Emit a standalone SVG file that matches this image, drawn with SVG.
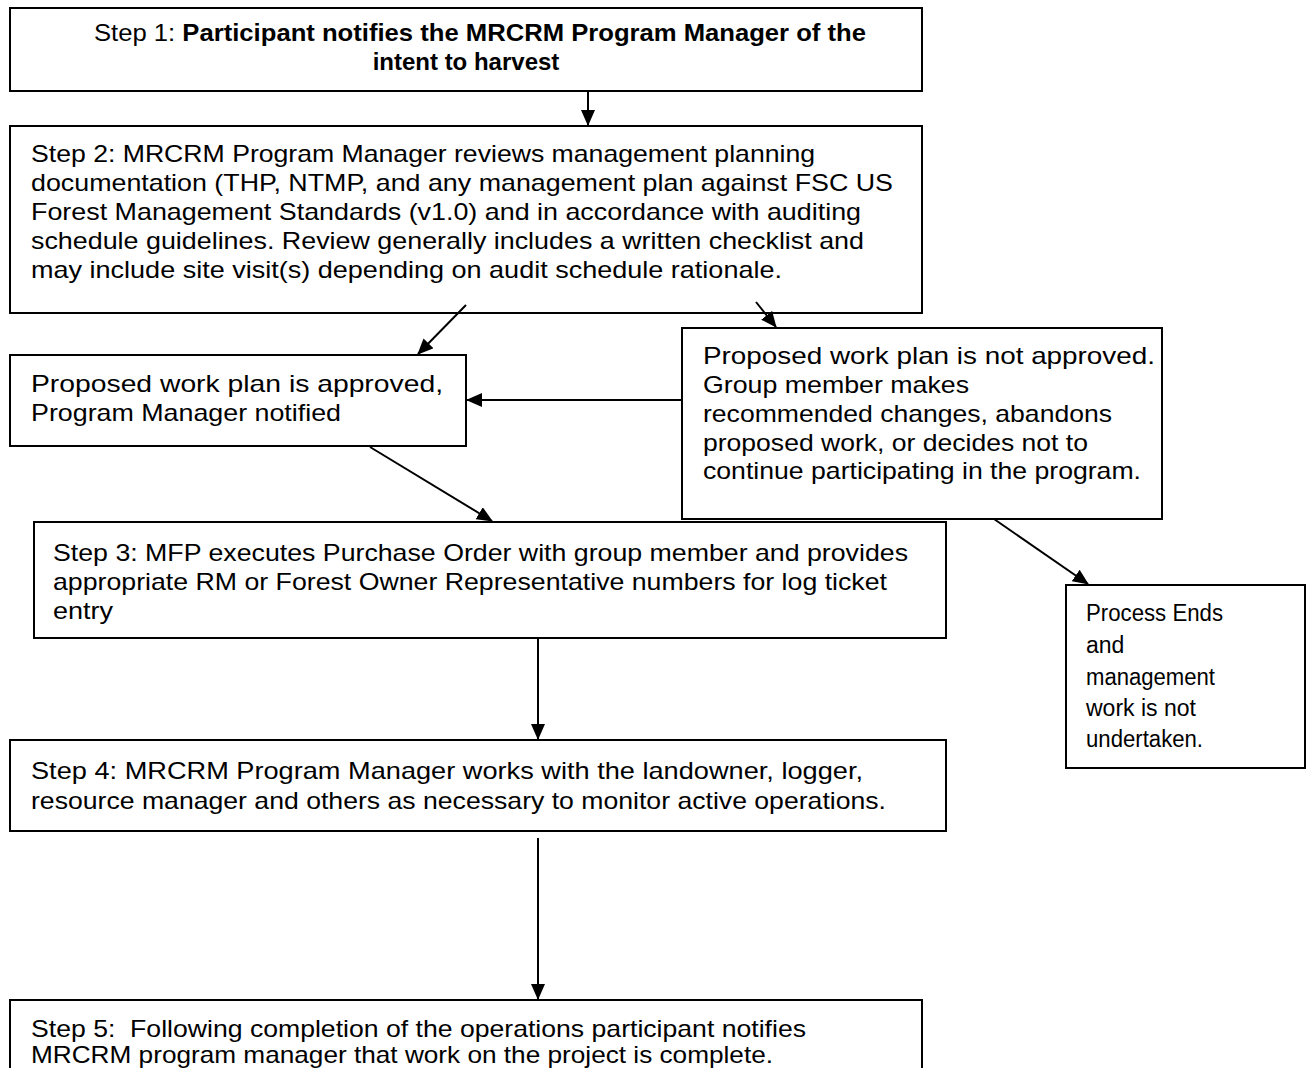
<svg xmlns="http://www.w3.org/2000/svg" width="1306" height="1068" viewBox="0 0 1306 1068">
<style>
.box{fill:#fff;stroke:#000;stroke-width:2}
.t{font-family:"Liberation Sans",Arial,sans-serif;font-size:24px;fill:#000}
.s{font-size:23px}
.b{font-weight:bold}
.c{stroke:#000;stroke-width:2;fill:none}
</style>
<defs>
<marker id="ah" markerWidth="16" markerHeight="14" refX="15" refY="7" orient="auto" markerUnits="userSpaceOnUse">
<path d="M0,0 L16,7 L0,14 Z" fill="#000"/>
</marker>
</defs>
<rect width="1306" height="1068" fill="#fff"/>
<g id="step1">
<rect class="box" x="10" y="8" width="912" height="83"/>
<text class="t" x="94" y="41" textLength="772" lengthAdjust="spacingAndGlyphs">Step 1: <tspan class="b">Participant notifies the MRCRM Program Manager of the</tspan></text>
<text class="t b" x="466" y="70" text-anchor="middle">intent to harvest</text>
</g>
<g id="step2">
<rect class="box" x="10" y="126" width="912" height="187"/>
<text class="t" x="31" y="162" textLength="784" lengthAdjust="spacingAndGlyphs">Step 2: MRCRM Program Manager reviews management planning</text>
<text class="t" x="31" y="191" textLength="862" lengthAdjust="spacingAndGlyphs">documentation (THP, NTMP, and any management plan against FSC US</text>
<text class="t" x="31" y="220" textLength="830" lengthAdjust="spacingAndGlyphs">Forest Management Standards (v1.0) and in accordance with auditing</text>
<text class="t" x="31" y="249" textLength="833" lengthAdjust="spacingAndGlyphs">schedule guidelines. Review generally includes a written checklist and</text>
<text class="t" x="31" y="278" textLength="751" lengthAdjust="spacingAndGlyphs">may include site visit(s) depending on audit schedule rationale.</text>
</g>
<g id="approved">
<rect class="box" x="10" y="355" width="456" height="91"/>
<text class="t" x="31" y="392" textLength="412" lengthAdjust="spacingAndGlyphs">Proposed work plan is approved,</text>
<text class="t" x="31" y="421" textLength="310" lengthAdjust="spacingAndGlyphs">Program Manager notified</text>
</g>
<g id="notapproved">
<rect class="box" x="682" y="328" width="480" height="191"/>
<text class="t" x="703" y="364" textLength="452" lengthAdjust="spacingAndGlyphs">Proposed work plan is not approved.</text>
<text class="t" x="703" y="393" textLength="266" lengthAdjust="spacingAndGlyphs">Group member makes</text>
<text class="t" x="703" y="422" textLength="409" lengthAdjust="spacingAndGlyphs">recommended changes, abandons</text>
<text class="t" x="703" y="451" textLength="385" lengthAdjust="spacingAndGlyphs">proposed work, or decides not to</text>
<text class="t" x="703" y="479" textLength="438" lengthAdjust="spacingAndGlyphs">continue participating in the program.</text>
</g>
<g id="step3">
<rect class="box" x="34" y="522" width="912" height="116"/>
<text class="t" x="53" y="561" textLength="855" lengthAdjust="spacingAndGlyphs">Step 3: MFP executes Purchase Order with group member and provides</text>
<text class="t" x="53" y="590" textLength="834" lengthAdjust="spacingAndGlyphs">appropriate RM or Forest Owner Representative numbers for log ticket</text>
<text class="t" x="53" y="619" textLength="60" lengthAdjust="spacingAndGlyphs">entry</text>
</g>
<g id="processends">
<rect class="box" x="1066" y="585" width="239" height="183"/>
<text class="t s" x="1086" y="621" textLength="137" lengthAdjust="spacingAndGlyphs">Process Ends</text>
<text class="t s" x="1086" y="653">and</text>
<text class="t s" x="1086" y="685" textLength="129" lengthAdjust="spacingAndGlyphs">management</text>
<text class="t s" x="1086" y="716">work is not</text>
<text class="t s" x="1086" y="747" textLength="117" lengthAdjust="spacingAndGlyphs">undertaken.</text>
</g>
<g id="step4">
<rect class="box" x="10" y="740" width="936" height="91"/>
<text class="t" x="31" y="779" textLength="832" lengthAdjust="spacingAndGlyphs">Step 4: MRCRM Program Manager works with the landowner, logger,</text>
<text class="t" x="31" y="809" textLength="855" lengthAdjust="spacingAndGlyphs">resource manager and others as necessary to monitor active operations.</text>
</g>
<g id="step5">
<path class="box" d="M10,1068 V1000 H922 V1068"/>
<text class="t" x="31" y="1037" xml:space="preserve" textLength="775" lengthAdjust="spacingAndGlyphs">Step 5:  Following completion of the operations participant notifies</text>
<text class="t" x="31" y="1063" textLength="742" lengthAdjust="spacingAndGlyphs">MRCRM program manager that work on the project is complete.</text>
</g>
<g id="connectors">
<line class="c" x1="588" y1="91" x2="588" y2="125" marker-end="url(#ah)"/>
<line class="c" x1="466" y1="305" x2="418" y2="354" marker-end="url(#ah)"/>
<line class="c" x1="756" y1="302" x2="776" y2="327" marker-end="url(#ah)"/>
<line class="c" x1="682" y1="400" x2="467" y2="400" marker-end="url(#ah)"/>
<line class="c" x1="370" y1="447" x2="492" y2="521" marker-end="url(#ah)"/>
<line class="c" x1="994" y1="519" x2="1088" y2="584" marker-end="url(#ah)"/>
<line class="c" x1="538" y1="638" x2="538" y2="739" marker-end="url(#ah)"/>
<line class="c" x1="538" y1="838" x2="538" y2="999" marker-end="url(#ah)"/>
</g>
</svg>
